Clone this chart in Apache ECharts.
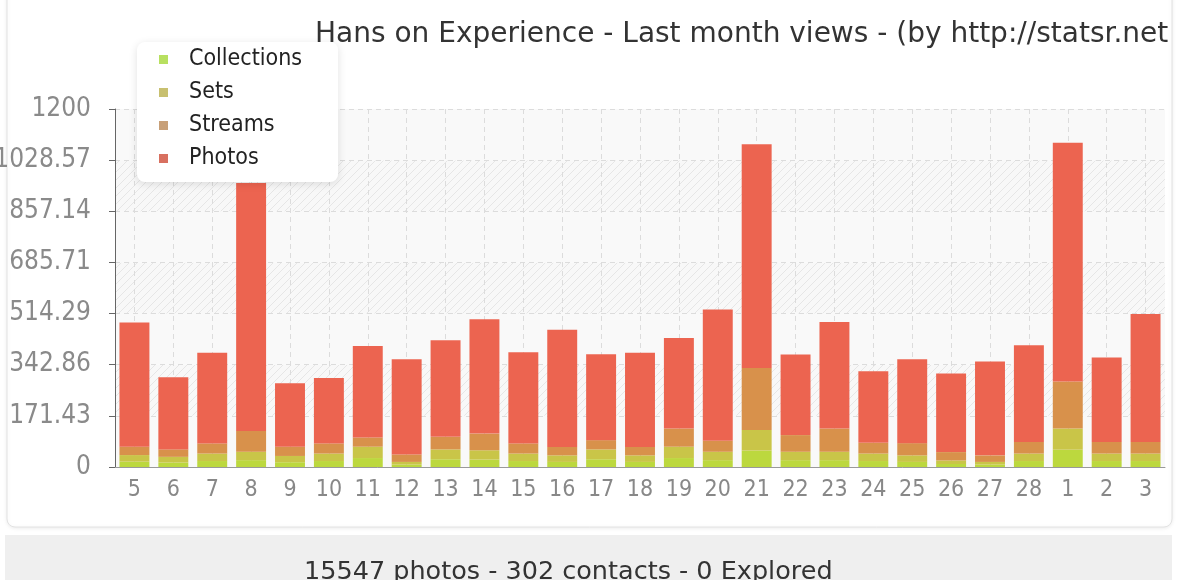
<!DOCTYPE html>
<html>
<head>
<meta charset="utf-8">
<script src="https://cdn.jsdelivr.net/npm/echarts@6/dist/echarts.min.js"></script>
<style>
html,body{margin:0;padding:0;background:#fff;}
#c{width:1183px;height:580px;}
</style>
</head>
<body>
<div id="c"></div>
<script>
var categories = ['5','6','7','8','9','10','11','12','13','14','15','16','17','18','19','20','21','22','23','24','25','26','27','28','1','2','3'];
var collections = [18,15,20,23,16,20,30,8,26,25,20,17,26,17,30,23,55,23,23,20,17,10,8,20,58,20,20];
var sets = [22,19,25,28,21,25,38,9,33,31,25,22,33,22,38,28,69,28,28,25,22,12,9,25,71,25,25];
var streams = [28,25,34,70,31,34,31,25,42,56,34,28,31,28,61,37,208,56,78,36,41,28,22,39,158,39,39];
var photos = [416,242,304,831,213,219,307,319,324,383,306,393,288,316,303,440,750,270,357,240,281,263,315,324,800,283,429];
var yTickLabels = ['0','171.43','342.86','514.29','685.71','857.14','1028.57','1200'];
var seriesNames = ['Collections','Sets','Streams','Photos'];
var titleText = 'Hans on Experience - Last month views - (by http://statsr.net';
var footerText = '15547 photos - 302 contacts - 0 Explored';

// hatch pattern
var pc = document.createElement('canvas');
pc.width = 8; pc.height = 8;
var pctx = pc.getContext('2d');
pctx.fillStyle = '#f8f8f8';
pctx.fillRect(0,0,8,8);
pctx.strokeStyle = '#e6e6e6';
pctx.lineWidth = 1;
pctx.beginPath();
pctx.moveTo(0,8); pctx.lineTo(8,0);
pctx.moveTo(-4,4); pctx.lineTo(4,-4);
pctx.moveTo(4,12); pctx.lineTo(12,4);
pctx.stroke();

var chart = echarts.init(document.getElementById('c'), null, {renderer:'canvas'});
var font = 'DejaVu Sans';
var condFont = "'DejaVu Sans Condensed', 'DejaVu Sans'";
var barColors = ['#bcd83e','#c9c548','#d8914b','#ec6450'];
var legendColors = ['#b8e060','#c8c070','#c8a078','#d87060'];
var dataArr = [collections, sets, streams, photos];

var gridLeft = 115, gridTop = 109, gridW = 1050, gridH = 358;
var catW = gridW / categories.length;

chart.setOption({
  animation: false,
  textStyle: {fontFamily: font},
  graphic: [
    {type:'rect', z:-100, shape:{x:7,y:-12,width:1165,height:539,r:8}, style:{fill:'#fff', stroke:'#e2e2e2', lineWidth:1, shadowBlur:4, shadowColor:'rgba(0,0,0,0.08)', shadowOffsetY:1}},
    {type:'rect', z:-100, shape:{x:5,y:535,width:1167,height:50}, style:{fill:'#efefef'}}
  ],
  title: [
    {text: titleText, left: 310, top: 16, textStyle:{fontSize:28, fontWeight:'normal', color:'#333', fontFamily:font}},
    {text: footerText, left: 299, top: 554, textStyle:{fontSize:25.5, fontWeight:'normal', color:'#333', fontFamily:font}}
  ],
  legend: {
    orient:'vertical', left:137, top:42, z:10,
    backgroundColor:'#fff', borderRadius:8, padding:[6,36,12,22],
    shadowBlur:8, shadowColor:'rgba(0,0,0,0.12)', shadowOffsetY:2,
    icon:'rect', itemWidth:9, itemHeight:9, itemGap:10,
    textStyle:{fontSize:23, color:'#222', fontFamily:condFont, padding:[0,0,0,16]},
    data: seriesNames.map(function(n,i){return {name:n, itemStyle:{color:legendColors[i]}};})
  },
  grid: [
    {left:gridLeft, top:gridTop, width:gridW, height:gridH, containLabel:false, outerBoundsMode:'none'},
    {left:gridLeft + catW/2, top:gridTop, width:gridW - catW, height:gridH, containLabel:false, outerBoundsMode:'none'}
  ],
  xAxis: [
    {type:'category', gridIndex:0, data:categories,
     axisLine:{lineStyle:{color:'#999', width:1}},
     axisTick:{alignWithLabel:true, length:8, lineStyle:{color:'#666'}},
     axisLabel:{fontSize:23, color:'#888', margin:12, fontFamily:condFont, interval:0},
     splitLine:{show:false}},
    {type:'value', gridIndex:1, min:0, max:categories.length-1, interval:1, show:true,
     axisLine:{show:false}, axisTick:{show:false}, axisLabel:{show:false},
     splitLine:{show:true, lineStyle:{color:'#dcdcdc', type:[5,4]}}}
  ],
  yAxis: [
    {type:'value', gridIndex:0, min:0, max:1200, interval:1200/7,
     axisLine:{show:true, lineStyle:{color:'#666'}},
     axisTick:{show:true, length:6, lineStyle:{color:'#666'}},
     axisLabel:{fontSize:26, color:'#8a8a8a', margin:24, fontFamily:condFont,
       formatter:function(v,i){return yTickLabels[i];}},
     splitLine:{show:true, lineStyle:{color:'#dcdcdc', type:[5,4]}},
     splitArea:{show:true, areaStyle:{color:['#f9f9f9', {image: pc, repeat:'repeat'}]}}},
    {type:'value', gridIndex:1, min:0, max:1200, show:false, splitLine:{show:false}}
  ],
  series: seriesNames.map(function(n,i){
    return {name:n, type:'bar', stack:'total', xAxisIndex:0, yAxisIndex:0,
      barCategoryGap:'23%', data:dataArr[i], z:3,
      itemStyle:{color:barColors[i]}};
  })
});
</script>
</body>
</html>
